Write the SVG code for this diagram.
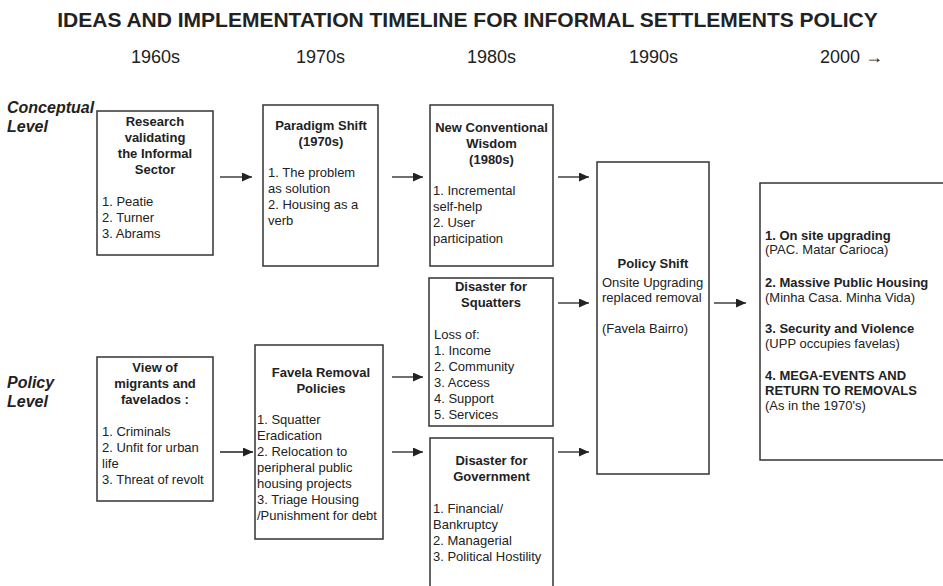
<svg xmlns="http://www.w3.org/2000/svg" width="943" height="586" viewBox="0 0 943 586">
<style>
text{font-family:"Liberation Sans",Arial,sans-serif;fill:#222;}
.title{font-size:21px;font-weight:bold;}
.dec{font-size:18px;}
.lvl{font-size:16px;font-weight:bold;font-style:italic;}
.t{font-size:13px;}
.b{font-size:13px;font-weight:bold;}
.c{text-anchor:middle;}
.box{fill:#fff;stroke:#333;stroke-width:1.5;}
.arr{stroke:#222;stroke-width:1.3;fill:none;marker-end:url(#ah);}
</style>
<defs>
<marker id="ah" markerUnits="userSpaceOnUse" markerWidth="11" markerHeight="9" refX="10" refY="4.5" orient="auto">
<path d="M0,0 L10,4.5 L0,9 Z" fill="#222"/>
</marker>
</defs>
<rect width="943" height="586" fill="#fff"/>
<g id="header">
<text class="title c" x="467.5" y="27">IDEAS AND IMPLEMENTATION TIMELINE FOR INFORMAL SETTLEMENTS POLICY</text>
<text class="dec c" x="155.5" y="63">1960s</text>
<text class="dec c" x="320.5" y="63">1970s</text>
<text class="dec c" x="491.5" y="63">1980s</text>
<text class="dec c" x="653.5" y="63">1990s</text>
<text class="dec c" x="851.5" y="63">2000 →</text>
</g>
<g id="levels">
<text class="lvl" x="7" y="113">Conceptual</text>
<text class="lvl" x="7" y="132">Level</text>
<text class="lvl" x="7" y="388">Policy</text>
<text class="lvl" x="7" y="407">Level</text>
</g>
<g id="connectors">
<line class="arr" x1="220" y1="177" x2="252" y2="177"/>
<line class="arr" x1="392" y1="177" x2="423" y2="177"/>
<line class="arr" x1="558" y1="177" x2="589" y2="177"/>
<line class="arr" x1="558" y1="303" x2="589" y2="303"/>
<line class="arr" x1="558" y1="452" x2="589" y2="452"/>
<line class="arr" x1="220" y1="452" x2="253" y2="452"/>
<line class="arr" x1="392" y1="377" x2="423" y2="377"/>
<line class="arr" x1="392" y1="452" x2="423" y2="452"/>
<line class="arr" x1="714" y1="303" x2="746" y2="303"/>
</g>
<g id="research">
<rect class="box" x="97" y="111" width="116" height="144"/>
<text class="b c" x="155" y="126">Research</text>
<text class="b c" x="155" y="142">validating</text>
<text class="b c" x="155" y="158">the Informal</text>
<text class="b c" x="155" y="174">Sector</text>
<text class="t" x="102" y="206">1. Peatie</text>
<text class="t" x="102" y="222">2. Turner</text>
<text class="t" x="102" y="238">3. Abrams</text>
</g>
<g id="paradigm">
<rect class="box" x="263" y="105" width="115" height="161"/>
<text class="b c" x="321" y="130">Paradigm Shift</text>
<text class="b c" x="321" y="146">(1970s)</text>
<text class="t" x="268" y="177">1. The problem</text>
<text class="t" x="268" y="193">as solution</text>
<text class="t" x="268" y="209">2. Housing as a</text>
<text class="t" x="268" y="225">verb</text>
</g>
<g id="wisdom">
<rect class="box" x="430" y="105" width="123" height="161"/>
<text class="b c" x="491.5" y="132">New Conventional</text>
<text class="b c" x="491.5" y="148">Wisdom</text>
<text class="b c" x="491.5" y="164">(1980s)</text>
<text class="t" x="433" y="195">1. Incremental</text>
<text class="t" x="433" y="211">self-help</text>
<text class="t" x="433" y="227">2. User</text>
<text class="t" x="433" y="243">participation</text>
</g>
<g id="squatters">
<rect class="box" x="429" y="278" width="124" height="148"/>
<text class="b c" x="491" y="291">Disaster for</text>
<text class="b c" x="491" y="307">Squatters</text>
<text class="t" x="434" y="339">Loss of:</text>
<text class="t" x="434" y="355">1. Income</text>
<text class="t" x="434" y="371">2. Community</text>
<text class="t" x="434" y="387">3. Access</text>
<text class="t" x="434" y="403">4. Support</text>
<text class="t" x="434" y="419">5. Services</text>
</g>
<g id="view">
<rect class="box" x="97" y="357" width="116" height="144"/>
<text class="b c" x="155" y="372">View of</text>
<text class="b c" x="155" y="388">migrants and</text>
<text class="b c" x="155" y="404">favelados :</text>
<text class="t" x="102" y="436">1. Criminals</text>
<text class="t" x="102" y="452">2. Unfit for urban</text>
<text class="t" x="102" y="468">life</text>
<text class="t" x="102" y="484">3. Threat of revolt</text>
</g>
<g id="removal">
<rect class="box" x="255" y="345" width="128" height="194"/>
<text class="b c" x="321" y="377">Favela Removal</text>
<text class="b c" x="321" y="393">Policies</text>
<text class="t" x="257" y="424">1. Squatter</text>
<text class="t" x="257" y="440">Eradication</text>
<text class="t" x="257" y="456">2. Relocation to</text>
<text class="t" x="257" y="472">peripheral public</text>
<text class="t" x="257" y="488">housing projects</text>
<text class="t" x="257" y="504">3. Triage Housing</text>
<text class="t" x="257" y="520">/Punishment for debt</text>
</g>
<g id="government">
<rect class="box" x="430" y="438" width="123" height="160"/>
<text class="b c" x="491.5" y="465">Disaster for</text>
<text class="b c" x="491.5" y="481">Government</text>
<text class="t" x="433" y="513">1. Financial/</text>
<text class="t" x="433" y="529">Bankruptcy</text>
<text class="t" x="433" y="545">2. Managerial</text>
<text class="t" x="433" y="561">3. Political Hostility</text>
</g>
<g id="policyshift">
<rect class="box" x="597" y="162" width="112" height="312"/>
<text class="b c" x="653" y="268">Policy Shift</text>
<text class="t" x="602" y="287">Onsite Upgrading</text>
<text class="t" x="602" y="302">replaced removal</text>
<text class="t" x="602" y="333">(Favela Bairro)</text>
</g>
<g id="current">
<rect class="box" x="760" y="183" width="200" height="277"/>
<text class="b" x="765" y="240">1. On site upgrading</text>
<text class="t" x="765" y="254">(PAC. Matar Carioca)</text>
<text class="b" x="765" y="287">2. Massive Public Housing</text>
<text class="t" x="765" y="302">(Minha Casa. Minha Vida)</text>
<text class="b" x="765" y="333">3. Security and Violence</text>
<text class="t" x="765" y="348">(UPP occupies favelas)</text>
<text class="b" x="765" y="380">4. MEGA-EVENTS AND</text>
<text class="b" x="765" y="395">RETURN TO REMOVALS</text>
<text class="t" x="765" y="410">(As in the 1970's)</text>
</g>
</svg>
